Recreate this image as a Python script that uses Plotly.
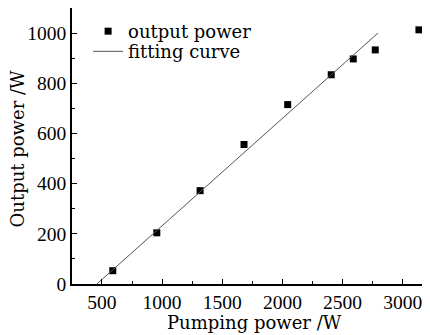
import plotly.graph_objects as go

pump_power = [590, 956, 1316, 1681, 2044, 2406, 2589, 2772, 3135]
output_power = [53, 204, 372, 556, 715, 834, 897, 933, 1013]

fit_slope = 0.428
fit_intercept = -196
fit_x = [458, 2794]
fit_y = [fit_slope * x + fit_intercept for x in fit_x]

TICK_FONT = "'Liberation Serif', serif"
FONT = "'DejaVu Serif', serif"

fig = go.Figure()
fig.add_trace(go.Scatter(
    x=pump_power, y=output_power, mode="markers", name="output power",
    marker=dict(symbol="square", size=7, color="black"), legend="legend",
))
fig.add_trace(go.Scatter(
    x=fit_x, y=fit_y, mode="lines", name="fitting curve",
    line=dict(color="#555555", width=1), legend="legend2",
))

axis_common = dict(
    showgrid=False, zeroline=False, showline=True, linecolor="black", linewidth=1.5,
    mirror=True, ticks="inside", ticklen=5, tickwidth=1, tickcolor="black",
    tickfont=dict(family=TICK_FONT, size=19.5, color="black"),
)
fig.update_xaxes(
    range=[251, 3227], tickmode="array", tickvals=[500, 1000, 1500, 2000, 2500, 3000],
    minor=dict(ticks="inside", ticklen=3, dtick=250, tick0=0, tickcolor="black"),
    **axis_common,
)
fig.update_yaxes(
    range=[0, 1100], tickmode="array", tickvals=[0, 200, 400, 600, 800, 1000],
    minor=dict(ticks="inside", ticklen=3, dtick=100, tick0=0, tickcolor="black"),
    **axis_common,
)
fig.add_annotation(
    text="Pumping power /W", xref="paper", yref="paper", x=0.51, y=-0.1377,
    xanchor="center", yanchor="middle", showarrow=False,
    font=dict(family=FONT, size=18, color="black"),
)
fig.add_annotation(
    text="Output power /W", xref="paper", yref="paper", x=-0.1525, y=0.489,
    xanchor="center", yanchor="middle", showarrow=False, textangle=-90,
    font=dict(family=FONT, size=18, color="black"),
)
leg_common = dict(xanchor="left", yanchor="top", bgcolor="rgba(0,0,0,0)",
                  font=dict(family=FONT, size=18, color="black"), itemwidth=30)
fig.update_layout(
    width=422, height=327,
    font=dict(family=FONT, color="black"),
    margin=dict(l=64, r=0, t=0, b=51, autoexpand=False),
    paper_bgcolor="white", plot_bgcolor="white",
    showlegend=True,
    legend=dict(x=0.045, y=0.982, **leg_common),
    legend2=dict(x=0.045, y=0.909, **leg_common),
)
fig.write_html("out.html")
